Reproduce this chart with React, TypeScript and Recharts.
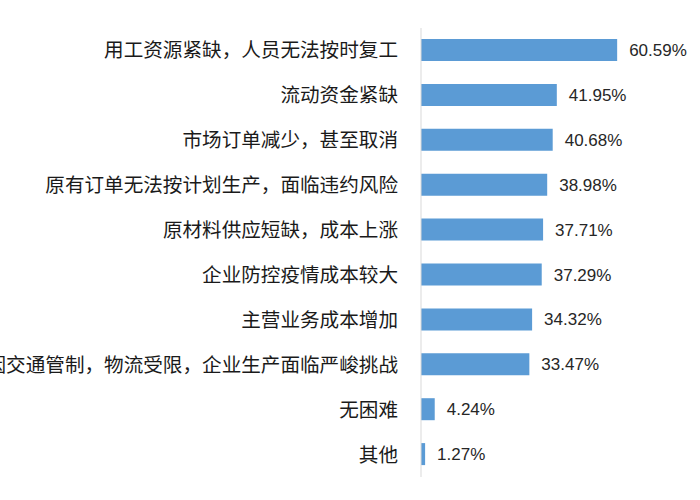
import { BarChart, Bar, XAxis, YAxis, LabelList } from 'recharts';

const categories = [
  '用工资源紧缺，人员无法按时复工',
  '流动资金紧缺',
  '市场订单减少，甚至取消',
  '原有订单无法按计划生产，面临违约风险',
  '原材料供应短缺，成本上涨',
  '企业防控疫情成本较大',
  '主营业务成本增加',
  '因交通管制，物流受限，企业生产面临严峻挑战',
  '无困难',
  '其他',
];

const shares = [60.59, 41.95, 40.68, 38.98, 37.71, 37.29, 34.32, 33.47, 4.24, 1.27];

const data = categories.map((name, i) => ({ name, value: shares[i] }));

export default function App() {
  return (
    <div style={{ width: 700, height: 500, background: '#fff' }}>
      <style>{'body{margin:0}'}</style>
      <BarChart
        width={700}
        height={500}
        data={data}
        layout="vertical"
        margin={{ top: 28, right: 20, bottom: 23, left: 0 }}
      >
        <XAxis type="number" domain={[0, 80]} hide />
        <YAxis
          type="category"
          dataKey="name"
          width={421}
          axisLine={{ stroke: '#d9d9d9' }}
          tickLine={false}
          tickSize={0}
          tickMargin={23}
          interval={0}
          tick={{ fill: '#1a1a1a', fontSize: 19.6, fontFamily: '"Noto Sans CJK SC", sans-serif' }}
        />
        <Bar dataKey="value" fill="#5b9bd5" barSize={22} isAnimationActive={false}>
          <LabelList
            dataKey="value"
            position="right"
            offset={12}
            formatter={(v: any) => `${Number(v).toFixed(2)}%`}
            style={{ fill: '#262626', fontSize: 17, fontFamily: '"Liberation Sans", Arial, sans-serif' }}
          />
        </Bar>
      </BarChart>
    </div>
  );
}
